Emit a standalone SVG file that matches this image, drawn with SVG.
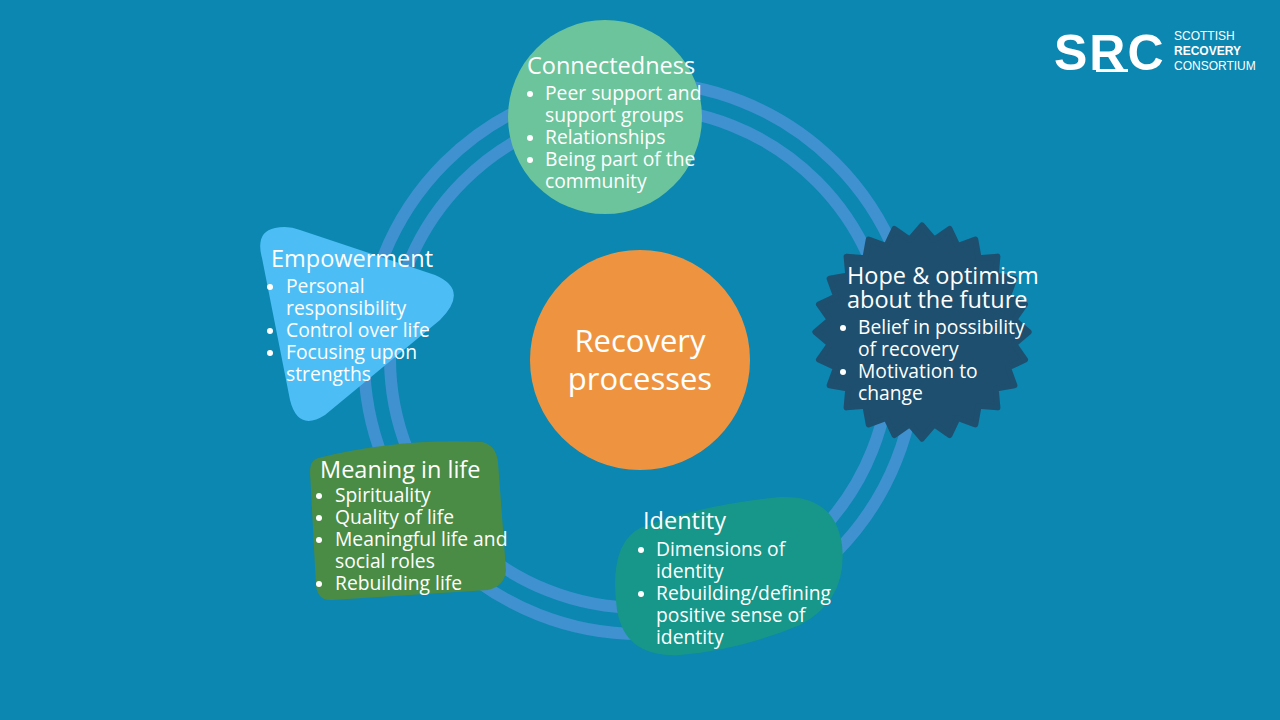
<svg xmlns="http://www.w3.org/2000/svg" width="1280" height="720" viewBox="0 0 1280 720">
<style>
text{font-family:"Open Sans","Noto Sans",sans-serif;fill:#fff}
.t{font-size:23.5px}
.b{font-size:19.3px}
.d{fill:#fff}
.ring{fill:none;stroke:#3f91cf;stroke-width:12}
</style>
<defs><circle id="dot" r="3" class="d"/></defs>
<rect width="1280" height="720" fill="#0b87b1"/>
<g id="connectors">
<circle class="ring" cx="640" cy="358" r="276"/>
<circle class="ring" cx="640" cy="358" r="250"/>
</g>
<g id="logo">
<text x="1054" y="70" style="font-family:'Liberation Sans',sans-serif;font-size:50px;font-weight:bold;letter-spacing:2px">SRC</text>
<rect x="1096" y="69" width="32" height="3" fill="#fff"/>
<text x="1174" y="40" style="font-family:'Liberation Sans',sans-serif;font-size:12px">SCOTTISH</text>
<text x="1174" y="55" style="font-family:'Liberation Sans',sans-serif;font-size:12px;font-weight:bold">RECOVERY</text>
<text x="1174" y="70" style="font-family:'Liberation Sans',sans-serif;font-size:12px">CONSORTIUM</text>
</g>
<g id="connectedness">
<circle cx="605" cy="117" r="97" fill="#6cc49c"/>
<text class="t" x="527" y="74">Connectedness</text>
<text class="b"><tspan x="545" y="100">Peer support and</tspan><tspan x="545" y="122">support groups</tspan><tspan x="545" y="144">Relationships</tspan><tspan x="545" y="166">Being part of the</tspan><tspan x="545" y="188">community</tspan></text>
<use href="#dot" x="530" y="94"/><use href="#dot" x="530" y="138"/><use href="#dot" x="530" y="160"/>
</g>
<g id="empowerment">
<path d="M275,228 Q255,232 262,258 L290,400 Q298,432 325,415 L440,320 Q470,290 435,275 L300,230 Q288,225 275,228 Z" fill="#4cbef5"/>
<text class="t" x="271" y="267">Empowerment</text>
<text class="b"><tspan x="286" y="293">Personal</tspan><tspan x="286" y="315">responsibility</tspan><tspan x="286" y="337">Control over life</tspan><tspan x="286" y="359">Focusing upon</tspan><tspan x="286" y="381">strengths</tspan></text>
<use href="#dot" x="270" y="287"/><use href="#dot" x="270" y="331"/><use href="#dot" x="270" y="353"/>
</g>
<g id="recovery">
<circle cx="640" cy="360" r="110" fill="#ee9441"/>
<text x="640" y="352" text-anchor="middle" style="font-size:31px">Recovery</text>
<text x="640" y="390" text-anchor="middle" style="font-size:31px">processes</text>
</g>
<g id="hope">
<polygon fill="#1e4f6e" transform="translate(922,332) scale(0.97)" points="110,0 95.1,12.6 106.3,28.5 88.7,36.8 95.3,55 76.1,58.5 77.8,77.8 58.5,76.1 55,95.3 36.8,88.7 28.5,106.3 12.6,95.1 0,110 -12.6,95.1 -28.5,106.3 -36.8,88.7 -55,95.3 -58.5,76.1 -77.8,77.8 -76.1,58.5 -95.3,55 -88.7,36.8 -106.3,28.5 -95.1,12.6 -110,0 -95.1,-12.6 -106.3,-28.5 -88.7,-36.8 -95.3,-55 -76.1,-58.5 -77.8,-77.8 -58.5,-76.1 -55,-95.3 -36.8,-88.7 -28.5,-106.3 -12.6,-95.1 0,-110 12.6,-95.1 28.5,-106.3 36.8,-88.7 55,-95.3 58.5,-76.1 77.8,-77.8 76.1,-58.5 95.3,-55 88.7,-36.8 106.3,-28.5 95.1,-12.6" stroke="#1e4f6e" stroke-width="6" stroke-linejoin="round"/>
<text class="t" x="847" y="284">Hope &amp; optimism</text>
<text class="t" x="847" y="308">about the future</text>
<text class="b"><tspan x="858" y="334">Belief in possibility</tspan><tspan x="858" y="356">of recovery</tspan><tspan x="858" y="378">Motivation to</tspan><tspan x="858" y="400">change</tspan></text>
<use href="#dot" x="843" y="328"/><use href="#dot" x="843" y="372"/>
</g>
<g id="meaning">
<path d="M318,458 Q400,438 482,442 Q496,445 498,462 L506,570 Q505,586 488,590 L332,600 Q318,601 316,586 L310,472 Q310,460 318,458 Z" fill="#4a8c45"/>
<text class="t" x="320" y="478">Meaning in life</text>
<text class="b"><tspan x="335" y="502">Spirituality</tspan><tspan x="335" y="524">Quality of life</tspan><tspan x="335" y="546">Meaningful life and</tspan><tspan x="335" y="568">social roles</tspan><tspan x="335" y="590">Rebuilding life</tspan></text>
<use href="#dot" x="319" y="496"/><use href="#dot" x="319" y="518"/><use href="#dot" x="319" y="540"/><use href="#dot" x="319" y="584"/>
</g>
<g id="identity">
<path d="M640,528 Q700,505 780,497 Q835,495 842,545 Q848,600 800,625 Q740,650 680,655 Q625,658 617,610 Q608,545 640,528 Z" fill="#16978a"/>
<text class="t" x="643" y="529">Identity</text>
<text class="b"><tspan x="656" y="556">Dimensions of</tspan><tspan x="656" y="578">identity</tspan><tspan x="656" y="600">Rebuilding/defining</tspan><tspan x="656" y="622">positive sense of</tspan><tspan x="656" y="644">identity</tspan></text>
<use href="#dot" x="641" y="550"/><use href="#dot" x="641" y="594"/>
</g>
</svg>
